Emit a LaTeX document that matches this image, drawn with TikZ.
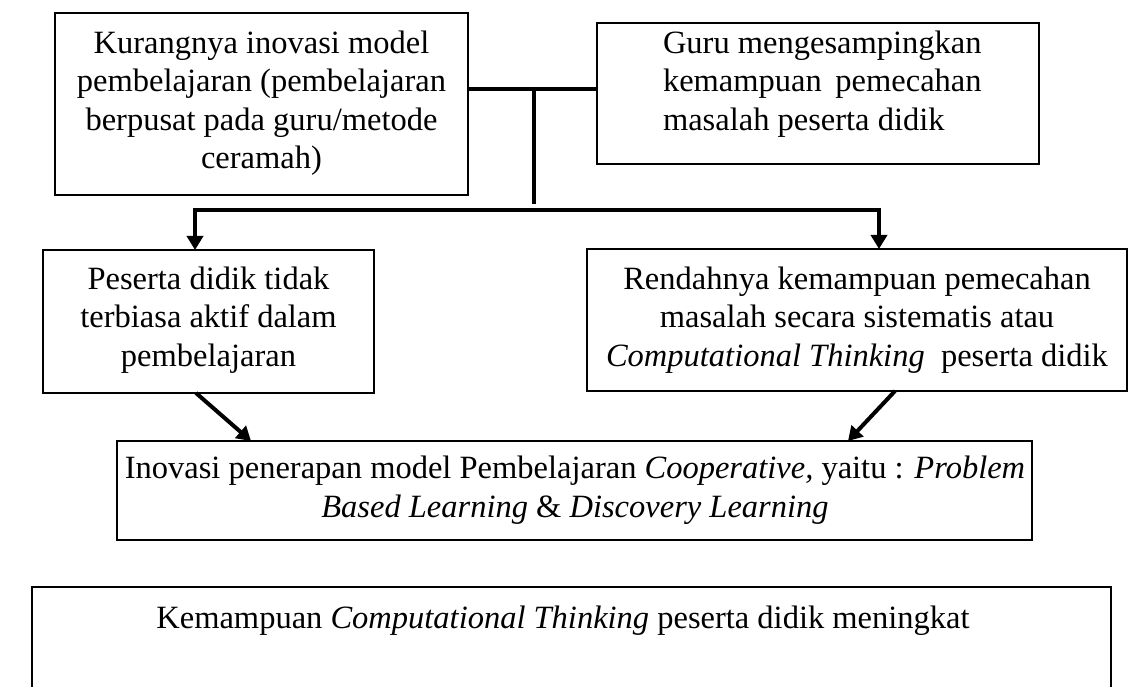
\documentclass[tikz,border=0pt]{standalone}
\usepackage{fontspec}
\setmainfont{Liberation Serif}
\usetikzlibrary{arrows.meta}
\begin{document}
\begin{tikzpicture}[x=1pt,y=-1pt,
  box/.style={draw=black,line width=1.3pt,inner sep=0pt,outer sep=0pt},
  txt/.style={inner sep=0pt,outer sep=0pt,align=center,font=\fontsize{32.5}{38.5}\selectfont},
  conn/.style={line width=4pt,line join=miter},
  arr/.style={line width=4pt,-{Triangle[length=14pt,width=16pt]}}]
\useasboundingbox (0,0) rectangle (1133,687);
\clip (0,0) rectangle (1133,687);
% boxes
\node[box,minimum width=413pt,minimum height=182pt] (b1) at (261.5,104) {};
\node[box,minimum width=442pt,minimum height=141pt] (b2) at (818,93.5) {};
\node[box,minimum width=331pt,minimum height=143pt] (b3) at (208.5,321.5) {};
\node[box,minimum width=540pt,minimum height=142pt] (b4) at (857,320) {};
\node[box,minimum width=915pt,minimum height=99pt] (b5) at (574.5,490.5) {};
\node[box,minimum width=1079pt,minimum height=173pt] (b6) at (571.5,673.5) {};
% texts
\node[txt] (t1) at (261.5,103) {Kurangnya inovasi model\\pembelajaran (pembelajaran\\berpusat pada guru/metode\\ceramah)};
\node[txt,align=left,anchor=west] (t2) at (663,84) {Guru mengesampingkan\\\makebox[318.6pt][s]{kemampuan pemecahan}\\masalah peserta didik};
\node[txt] (t3) at (208.5,320) {Peserta didik tidak\\terbiasa aktif dalam\\pembelajaran};
\node[txt] (t4) at (857,320) {Rendahnya kemampuan pemecahan\\masalah secara sistematis atau\\\textit{Computational Thinking}\ \ peserta didik};
\node[txt] (t5) at (575,490) {Inovasi penerapan model Pembelajaran \textit{Cooperative,} yaitu : \textit{Problem}\\\textit{Based Learning} \& \textit{Discovery Learning}};
\node[txt] (t6) at (563,621) {Kemampuan \textit{Computational Thinking} peserta didik meningkat};
% connectors
\coordinate (j1) at (534,89);
\coordinate (j2) at (534,204);
\coordinate (hL) at (195,210);
\coordinate (hR) at (879,210);
\draw[conn] (b1.east |- j1) -- (b2.west |- j1);
\draw[conn] (j1) -- (j2);
\draw[conn,{Triangle[length=14pt,width=16pt]}-{Triangle[length=14pt,width=16pt]}] (b3.north -| hL) -- (hL) -- (hR) -- (b4.north -| hR);
\draw[arr] (b3.south -| 196,0) -- (b5.north -| 251,0);
\draw[arr] (b4.south -| 895,0) -- (b5.north -| 848,0);
\end{tikzpicture}
\end{document}
